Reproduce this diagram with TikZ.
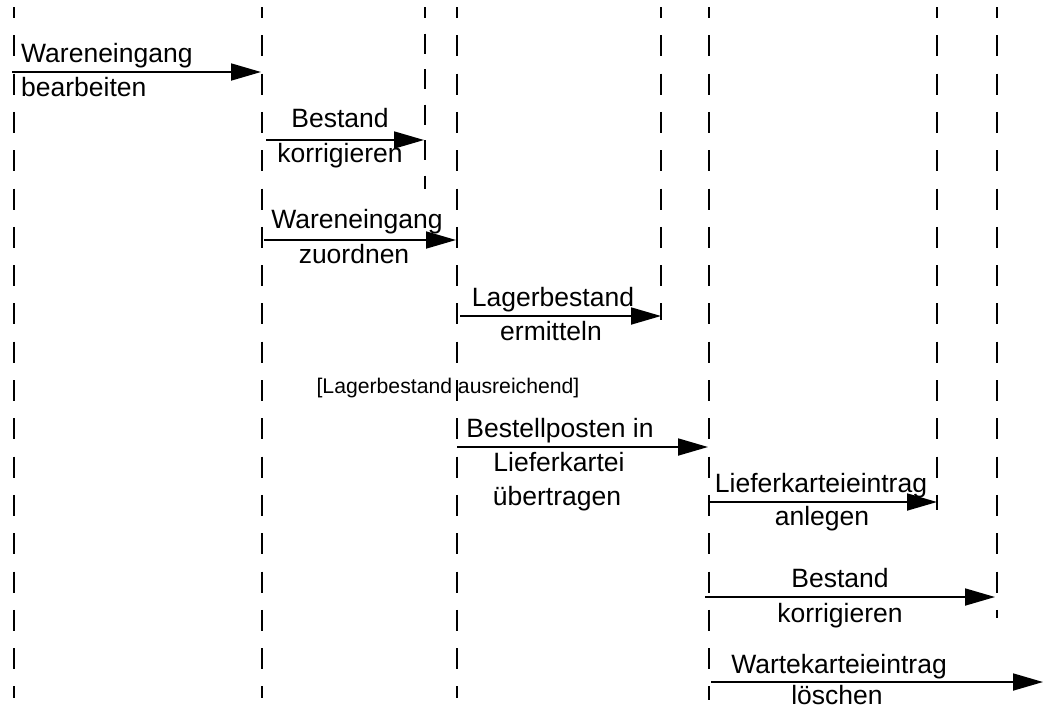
\documentclass[tikz,border=0pt]{standalone}
\usepackage{fontspec}
\setmainfont{Liberation Sans}
\usetikzlibrary{arrows.meta}

\tikzset{
  lifeline/.style={line width=1.8pt, dash pattern=on 21pt off 17.3pt, dash phase=10pt},
  shortline/.style={line width=1.8pt, dash pattern=on 20pt off 15.5pt, dash phase=9pt},
  msg/.style={line width=1.8pt, -{Triangle[length=30pt,width=17pt]}},
  lbl/.style={inner sep=0pt, anchor=base, font=\fontsize{26.5}{34}\selectfont},
  lblw/.style={lbl, anchor=base west},
  guard/.style={inner sep=0pt, anchor=base, font=\fontsize{21.2}{26}\selectfont}
}

\begin{document}
\begin{tikzpicture}[x=1pt,y=-1pt]
\useasboundingbox (0,0) rectangle (1043,710);

% lifelines: top and bottom points
\foreach \n/\x/\b in {1/14/698, 2/262/698, 4/457/698,
                      5/661/320, 6/709/700, 7/937/510, 8/997/618} {
  \coordinate (top\n) at (\x,7);
  \coordinate (bot\n) at (\x,\b);
  \draw[lifeline] (top\n) -- (bot\n);
}
\coordinate (top3) at (425,7);
\coordinate (bot3) at (425,189);
\draw[shortline] (top3) -- (bot3);

% message end points
\coordinate (s1) at (12,72);   \coordinate (e1) at (261,72);
\coordinate (s2) at (266,140); \coordinate (e2) at (424,140);
\coordinate (s3) at (264,240); \coordinate (e3) at (456,240);
\coordinate (s4) at (460,316); \coordinate (e4) at (661,316);
\coordinate (s6) at (457,447); \coordinate (e6) at (708,447);
\coordinate (s7) at (708,502); \coordinate (e7) at (937,502);
\coordinate (s8) at (705,597); \coordinate (e8) at (995,597);
\coordinate (s9) at (711,682); \coordinate (e9) at (1043,682);

\draw[msg] (s1) -- (e1);
\draw[msg] (s2) -- (e2);
\draw[msg] (s3) -- (e3);
\draw[msg] (s4) -- (e4);
\draw[msg] (s6) -- (e6);
\draw[msg] (s7) -- (e7);
\draw[msg] (s8) -- (e8);
\draw[msg] (s9) -- (e9);

% message labels
\node[lblw] (t1a) at (21,62) {Wareneingang};
\node[lblw] (t1b) at (21,96) {bearbeiten};

\node[lbl] (t2a) at (340,127) {Bestand};
\node[lbl] (t2b) at (340,162) {korrigieren};

\node[lbl] (t3a) at (357,228) {Wareneingang};
\node[lbl] (t3b) at (354,263) {zuordnen};

\node[lbl] (t4a) at (553,306) {Lagerbestand};
\node[lbl] (t4b) at (551,340) {ermitteln};

\node[guard] (g5) at (448,393) {[Lagerbestand ausreichend]};

\node[lbl] (t6a) at (560,437) {Bestellposten in};
\node[lbl] (t6b) at (559,471) {Lieferkartei};
\node[lbl] (t6c) at (557,505) {übertragen};

\node[lbl] (t7a) at (821,492) {Lieferkarteieintrag};
\node[lbl] (t7b) at (822,525) {anlegen};

\node[lbl] (t8a) at (840,587) {Bestand};
\node[lbl] (t8b) at (840,622) {korrigieren};

\node[lbl] (t9a) at (839,673) {Wartekarteieintrag};
\node[lbl] (t9b) at (837,704) {löschen};
\end{tikzpicture}
\end{document}
